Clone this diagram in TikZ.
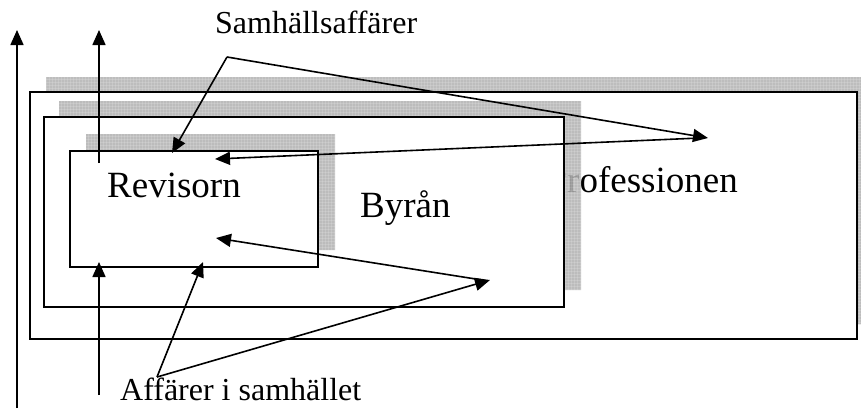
\documentclass[tikz,border=0pt]{standalone}
\usepackage{fontspec}
\setmainfont{Liberation Serif}
\usetikzlibrary{arrows.meta}

\tikzset{
  frame/.style={draw=black, line width=2pt, fill=white},
  conn/.style={line width=1.6pt, -{Triangle[length=15pt,width=13pt]}},
  bigtext/.style={font=\fontsize{37}{41}\selectfont, inner sep=0pt},
  smalltext/.style={font=\fontsize{32}{36}\selectfont, inner sep=0pt},
}

% hatched drop shadow: light grey with a fine grid, slightly see-through
\newcommand{\gridshadow}[4]{%
  \begin{scope}[transparency group, opacity=0.85]
    \clip (#1,#2) rectangle (#3,#4);
    \fill[gray!45] (#1,#2) rectangle (#3,#4);
    \draw[gray!100, line width=0.45pt, step=3pt] (#1,#2) grid (#3,#4);
  \end{scope}}

\begin{document}
\begin{tikzpicture}[x=1pt, y=-1pt]
\useasboundingbox (0,0) rectangle (861,410);

% Professionen
\gridshadow{46}{77}{875}{324}
\draw[frame] (30,92) rectangle (857,339);
\node[bigtext, anchor=base east] (proftext) at (738,192) {Professionen};

% Byrån
\gridshadow{59}{101}{581}{290}
\draw[frame] (44,117) rectangle (564,307);
\node[bigtext, anchor=base west] (byran) at (360,217) {Byrån};

% Revisorn
\gridshadow{86}{134}{335}{250}
\draw[frame] (70,151) rectangle (318,267);
\node[bigtext, anchor=base west] (revisorn) at (107,197) {Revisorn};

% labels
\node[smalltext, anchor=base west] (samh) at (215,33) {Samhällsaffärer};
\node[smalltext, anchor=base west] (affarer) at (120,400) {Affärer i samhället};

% connector end points
\coordinate (sj) at (227,57);
\coordinate (sRev) at (172,153);
\coordinate (sProf) at (708,138);
\coordinate (profTail) at (700,138);
\coordinate (profRev) at (215,159);
\coordinate (aj) at (157,377);
\coordinate (aRev) at (203,262);
\coordinate (aByr) at (490,280);
\coordinate (byrTail) at (482,280);
\coordinate (byrRev) at (216,238);
\coordinate (vBot) at (99,395);
\coordinate (vTop) at (99,262);
\coordinate (l1b) at (17,408);
\coordinate (l1t) at (17,30);
\coordinate (l2b) at (99,163);
\coordinate (l2t) at (99,30);

% arrows
\draw[conn] (l1b) -- (l1t);
\draw[conn] (l2b) -- (l2t);
\draw[conn] (sj) -- (sRev);
\draw[conn] (sj) -- (sProf);
\draw[conn] (profTail) -- (profRev);
\draw[conn] (vBot) -- (vTop);
\draw[conn] (aj) -- (aRev);
\draw[conn] (aj) -- (aByr);
\draw[conn] (byrTail) -- (byrRev);
\end{tikzpicture}
\end{document}
